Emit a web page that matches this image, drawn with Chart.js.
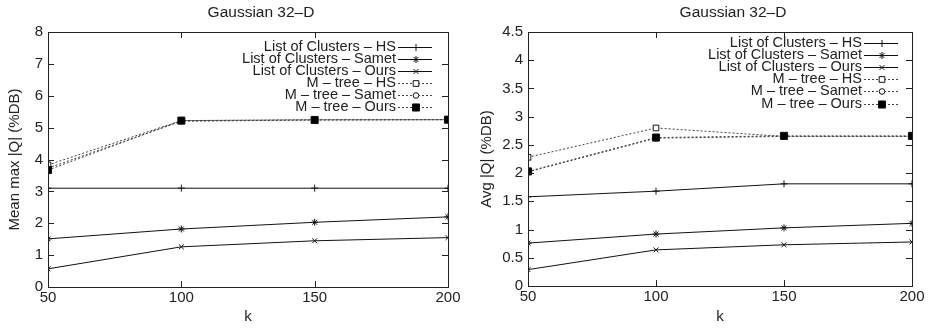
<!DOCTYPE html>
<html>
<head>
<meta charset="utf-8">
<script src="https://cdn.jsdelivr.net/npm/chart.js@4.4.0/dist/chart.umd.min.js"></script>
<style>
  body { margin: 0; background: #fff; }
  #wrap { position: relative; width: 931px; height: 330px; }
  canvas { position: absolute; top: 0; }
  #maxChart { left: 0; }
  #avgChart { left: 465px; }
</style>
</head>
<body>
<div id="wrap">
  <canvas id="maxChart" width="465" height="330"></canvas>
  <canvas id="avgChart" width="466" height="330"></canvas>
</div>
<script>
// Gaussian 32-D, two panels

const chartTitle = 'Gaussian 32\u2013D';
const kValues = [50, 100, 150, 200];
const seriesNames = [
    'List of Clusters \u2013 HS',
    'List of Clusters \u2013 Samet',
    'List of Clusters \u2013 Ours',
    'M \u2013 tree \u2013 HS',
    'M \u2013 tree \u2013 Samet',
    'M \u2013 tree \u2013 Ours'
];

// left panel: Mean max |Q|
const maxLcHs = [3.1, 3.1, 3.1, 3.1];
const maxLcSamet = [1.51, 1.82, 2.03, 2.2];
const maxLcOurs = [0.57, 1.26, 1.45, 1.55];
const maxMtHs = [3.83, 5.22, 5.25, 5.25];
const maxMtSamet = [3.73, 5.2, 5.24, 5.25];
const maxMtOurs = [3.67, 5.22, 5.24, 5.25];
const maxTicks = [0, 1, 2, 3, 4, 5, 6, 7, 8];

// right panel: Avg |Q|
const avgLcHs = [1.58, 1.68, 1.81, 1.81];
const avgLcSamet = [0.76, 0.92, 1.03, 1.11];
const avgLcOurs = [0.29, 0.64, 0.73, 0.78];
const avgMtHs = [2.28, 2.80, 2.65, 2.65];
const avgMtSamet = [2.02, 2.62, 2.65, 2.65];
const avgMtOurs = [2.03, 2.63, 2.66, 2.66];
const avgTicks = [0, 0.5, 1, 1.5, 2, 2.5, 3, 3.5, 4, 4.5];

const FONT = 'Liberation Sans, Arial, Helvetica, sans-serif';
const FS = 15;

// marker / line styles, same order as seriesNames
const styles = [
    { pointStyle: 'cross', radius: 3.5, fill: '#000', dash: [] },
    { pointStyle: 'star', radius: 3.5, fill: '#000', dash: [] },
    { pointStyle: 'crossRot', radius: 3.5, fill: '#000', dash: [] },
    { pointStyle: 'rect', radius: 4, fill: '#fff', dash: [2, 2] },
    { pointStyle: 'circle', radius: 2.8, fill: '#fff', dash: [2, 2] },
    { pointStyle: 'rect', radius: 5, fill: '#000', dash: [2, 2] }
];

function buildDatasets(series) {
    return series.map((vals, i) => ({
        label: seriesNames[i],
        data: vals.map((v, j) => ({ x: kValues[j], y: v })),
        order: i === 5 ? -1 : i,
        borderColor: i < 3 ? '#111' : '#444',
        borderWidth: 1,
        borderDash: styles[i].dash,
        pointStyle: styles[i].pointStyle,
        pointRadius: styles[i].radius,
        pointBorderWidth: 1,
        pointBorderColor: '#111',
        pointBackgroundColor: styles[i].fill,
        tension: 0,
        fill: false
    }));
}

// gnuplot-like frame, inward ticks, title and legend
const gnuplotLook = {
    id: 'gnuplotLook',
    afterDraw(chart, args, opts) {
        const ctx = chart.ctx;
        const a = chart.chartArea;
        ctx.save();
        ctx.strokeStyle = '#222';
        ctx.lineWidth = 1;
        ctx.strokeRect(Math.round(a.left) + 0.5, Math.round(a.top) + 0.5,
            Math.round(a.right - a.left), Math.round(a.bottom - a.top));

        const tl = 6;
        const ys = chart.scales.y;
        ys.ticks.forEach(t => {
            const p = Math.round(ys.getPixelForValue(t.value)) + 0.5;
            ctx.beginPath();
            ctx.moveTo(a.left, p); ctx.lineTo(a.left + tl, p);
            ctx.moveTo(a.right, p); ctx.lineTo(a.right - tl, p);
            ctx.stroke();
        });
        const xs = chart.scales.x;
        xs.ticks.forEach(t => {
            const p = Math.round(xs.getPixelForValue(t.value)) + 0.5;
            ctx.beginPath();
            ctx.moveTo(p, a.bottom); ctx.lineTo(p, a.bottom - tl);
            ctx.moveTo(p, a.top); ctx.lineTo(p, a.top + tl);
            ctx.stroke();
        });

        // title
        ctx.fillStyle = '#222';
        ctx.font = '15.5px ' + FONT;
        ctx.textAlign = 'center';
        ctx.textBaseline = 'middle';
        ctx.fillText(chartTitle, opts.titleX, 13);

        // legend
        ctx.font = '14.5px ' + FONT;
        ctx.textAlign = 'right';
        chart.data.datasets.forEach((ds, i) => {
            const y = opts.legendTop + i * opts.legendStep;
            ctx.fillStyle = '#222';
            ctx.fillText(ds.label, opts.textRight, y);
            ctx.strokeStyle = ds.borderColor;
            ctx.setLineDash(ds.borderDash);
            ctx.beginPath();
            ctx.moveTo(opts.textRight + 2, Math.round(y) + 0.5);
            ctx.lineTo(opts.lineEnd, Math.round(y) + 0.5);
            ctx.stroke();
            ctx.setLineDash([]);
            ctx.strokeStyle = '#111';
            ctx.fillStyle = ds.pointBackgroundColor;
            ctx.lineWidth = 1;
            Chart.helpers.drawPoint(ctx, {
                pointStyle: ds.pointStyle,
                radius: ds.pointRadius,
                borderWidth: 1,
                rotation: 0
            }, (opts.textRight + opts.lineEnd) / 2 + 2, Math.round(y) + 0.5);
        });
        ctx.restore();
    }
};

function makeChart(id, series, ticks, yTitle, cfg) {
    const ctx = document.getElementById(id);
    return new Chart(ctx, {
        type: 'line',
        data: { datasets: buildDatasets(series) },
        plugins: [gnuplotLook],
        options: {
            responsive: false,
            animation: false,
            devicePixelRatio: 1,
            layout: { padding: { left: 0, top: 32, right: cfg.padRight, bottom: 0 } },
            plugins: {
                legend: { display: false },
                tooltip: { enabled: false },
                gnuplotLook: cfg.look
            },
            scales: {
                x: {
                    type: 'linear',
                    min: 50,
                    max: 200,
                    afterBuildTicks: s => { s.ticks = kValues.map(v => ({ value: v })); },
                    afterFit: s => { s.height = cfg.xHeight; },
                    grid: { display: false, drawTicks: false },
                    border: { display: false },
                    ticks: { padding: 2, color: '#222', font: { family: FONT, size: FS } },
                    title: {
                        display: true,
                        text: 'k',
                        color: '#222',
                        font: { family: FONT, size: FS },
                        padding: { top: 0, bottom: 4 }
                    }
                },
                y: {
                    type: 'linear',
                    min: ticks[0],
                    max: ticks[ticks.length - 1],
                    afterBuildTicks: s => { s.ticks = ticks.map(v => ({ value: v })); },
                    afterFit: s => { s.width = cfg.yWidth; },
                    grid: { display: false, drawTicks: false },
                    border: { display: false },
                    ticks: {
                        padding: 5,
                        color: '#222',
                        font: { family: FONT, size: FS },
                        callback: v => String(v)
                    },
                    title: {
                        display: true,
                        text: yTitle,
                        color: '#222',
                        font: { family: FONT, size: FS },
                        padding: { top: cfg.yTitlePad, bottom: 0 }
                    }
                }
            }
        }
    });
}

makeChart('maxChart',
    [maxLcHs, maxLcSamet, maxLcOurs, maxMtHs, maxMtSamet, maxMtOurs],
    maxTicks, 'Mean max |Q| (%DB)',
    {
        padRight: 17, xHeight: 43, yWidth: 48, yTitlePad: 6,
        look: { titleX: 261, textRight: 396, lineEnd: 432, legendTop: 47, legendStep: 11.9 }
    });

makeChart('avgChart',
    [avgLcHs, avgLcSamet, avgLcOurs, avgMtHs, avgMtSamet, avgMtOurs],
    avgTicks, 'Avg |Q| (%DB)',
    {
        padRight: 19, xHeight: 44, yWidth: 63, yTitlePad: 12.5,
        look: { titleX: 268, textRight: 397, lineEnd: 433, legendTop: 42.5, legendStep: 12.2 }
    });
</script>
</body>
</html>
